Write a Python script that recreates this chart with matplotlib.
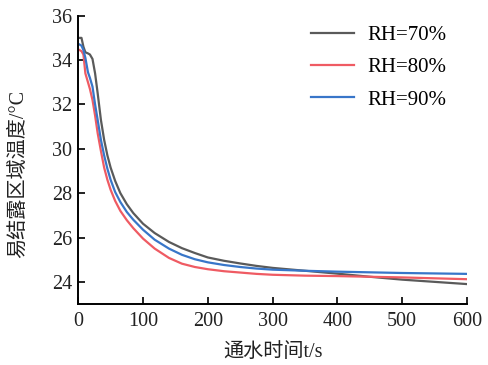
import matplotlib
matplotlib.use('Agg')
import matplotlib.pyplot as plt

plt.rcParams['font.family'] = ['Liberation Serif', 'Noto Sans CJK SC']
plt.rcParams['axes.unicode_minus'] = False

# time (s)
t = [2, 5, 8, 11, 15, 18, 22, 26, 30, 35, 40, 45, 50, 57, 65, 75, 85, 100,
     118, 140, 160, 180, 200, 225, 250, 275, 300, 350, 400, 450, 500, 550, 600]

rh70 = [35.0, 35.0, 34.6, 34.35, 34.3, 34.25, 34.05, 33.4, 32.5, 31.3, 30.4,
        29.7, 29.15, 28.55, 28.0, 27.5, 27.1, 26.62, 26.2, 25.8, 25.52,
        25.3, 25.1, 24.95, 24.83, 24.72, 24.63, 24.5, 24.37, 24.23, 24.1,
        24.0, 23.9]
rh80 = [34.45, 34.4, 34.25, 33.4, 33.0, 32.7, 32.2, 31.5, 30.7, 29.9, 29.15,
        28.6, 28.15, 27.65, 27.2, 26.78, 26.42, 25.95, 25.5, 25.08, 24.82,
        24.67, 24.57, 24.48, 24.42, 24.36, 24.32, 24.28, 24.26, 24.23, 24.2,
        24.16, 24.12]
rh90 = [34.7, 34.65, 34.45, 34.1, 33.45, 33.2, 32.8, 32.0, 31.3, 30.4, 29.7,
        29.1, 28.6, 28.05, 27.6, 27.15, 26.8, 26.35, 25.9, 25.5, 25.22,
        25.02, 24.88, 24.76, 24.67, 24.6, 24.55, 24.5, 24.46, 24.43, 24.4,
        24.38, 24.36]

labels = ['RH=70%', 'RH=80%', 'RH=90%']
colors = ['#5a5a5a', '#ef5b63', '#3876c9']

fig = plt.figure(figsize=(4.89, 3.65), dpi=100)
ax = fig.add_axes([0.16, 0.167, 0.795, 0.79])

for y, lab, c in zip([rh70, rh80, rh90], labels, colors):
    ax.plot(t, y, color=c, lw=1.6, label=lab)

ax.set_xlim(0, 600)
ax.set_ylim(23, 36)
ax.set_xticks(range(0, 601, 100))
ax.set_yticks(range(24, 37, 2))
ax.spines['top'].set_visible(False)
ax.spines['right'].set_visible(False)
ax.spines['left'].set_linewidth(1.4)
ax.spines['bottom'].set_linewidth(1.4)
ax.tick_params(direction='in', length=5, width=1.4, labelsize=14.5, colors='#222222')
ax.tick_params(axis='x', pad=6)
ax.tick_params(axis='y', pad=4.5)

ax.set_xlabel('通水时间t/s', fontsize=14.5, color='#222222')
ax.set_ylabel('易结露区域温度/°C', fontsize=14.5, color='#222222')
ax.xaxis.set_label_coords(0.5, -0.135)
ax.yaxis.set_label_coords(-0.128, 0.45)

ax.legend(loc='upper right', bbox_to_anchor=(0.995, 1.03), frameon=False,
          fontsize=15, handlelength=2.1, handletextpad=0.62, labelspacing=0.6)

fig.savefig('out.png', dpi=100)
